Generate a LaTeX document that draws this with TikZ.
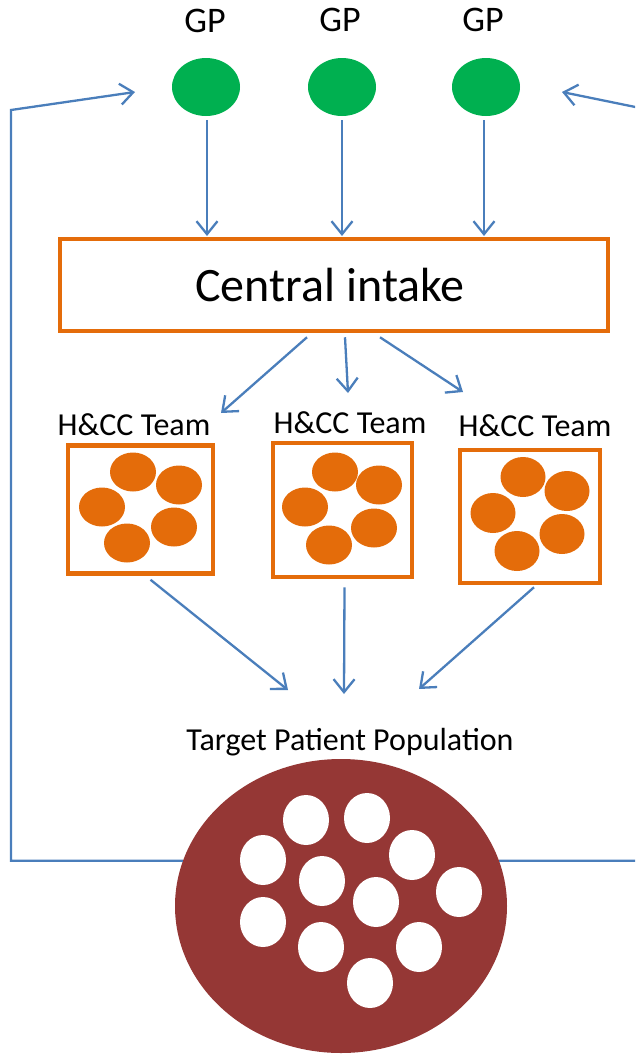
\documentclass[tikz,border=0pt]{standalone}
\usepackage{fontspec}
\setmainfont{Carlito}
\usetikzlibrary{arrows.meta,shapes.geometric}
\definecolor{cblue}{HTML}{4A7EBB}
\definecolor{cgreen}{HTML}{00B050}
\definecolor{corange}{HTML}{E46C0A}
\definecolor{cred}{HTML}{953735}
\tikzset{
  arr/.style={draw=cblue, line width=2.3pt, -{Straight Barb[length=13pt,width=21pt]}},
  gp/.style={ellipse, fill=cgreen, minimum width=68pt, minimum height=58pt, inner sep=0pt},
  lab/.style={anchor=base, inner sep=0pt, font=\fontsize{32}{32}\selectfont},
  gplab/.style={anchor=base, inner sep=0pt, font=\fontsize{36}{36}\selectfont},
  teambox/.style={draw=corange, line width=4.5pt, rectangle, inner sep=0pt},
  odot/.style={fill=corange},
  wdot/.style={fill=white},
}
\begin{document}
\begin{tikzpicture}[x=1pt,y=-1pt]
\useasboundingbox (0,0) rectangle (635,1055);
\clip (0,0) rectangle (635,1055);
% GP
\node[gplab] (gpl1) at (205,32) {GP};
\node[gplab] (gpl2) at (340,31) {GP};
\node[gplab] (gpl3) at (483,31) {GP};
\node[gp] (g1) at (206,87) {};
\node[gp] (g2) at (342,87) {};
\node[gp] (g3) at (486,87) {};
% central intake
\node[teambox, minimum width=548pt, minimum height=92pt] (intake) at (334,285) {};
\node[anchor=base, inner sep=0pt, font=\fontsize{48}{48}\selectfont] (intakel) at (330,301) {Central intake};
\coordinate (i1) at (207,236);
\coordinate (i2) at (342,236);
\coordinate (i3) at (484,236);
\draw[arr] ([yshift=-4pt]g1.south -| i1) -- (i1);
\draw[arr] ([yshift=-4pt]g2.south -| i2) -- (i2);
\draw[arr] ([yshift=-4pt]g3.south -| i3) -- (i3);
% team labels and boxes
\node[lab] (l1) at (134,435) {H\&CC Team};
\node[lab] (l2) at (350,433) {H\&CC Team};
\node[lab] (l3) at (535,436) {H\&CC Team};
\node[teambox, minimum width=145pt, minimum height=128pt] (t1) at (140.5,509.5) {};
\node[teambox, minimum width=139pt, minimum height=134pt] (t2) at (342.5,510) {};
\node[teambox, minimum width=140pt, minimum height=133pt] (t3) at (530,516.5) {};
\coordinate (a1) at (221,413);
\coordinate (a2) at (348,393);
\coordinate (a3) at (463,392);
\draw[arr] ([xshift=-27pt,yshift=-4pt]intake.south) -- (a1);
\draw[arr] ([xshift=11pt,yshift=-4pt]intake.south) -- (a2);
\draw[arr] ([xshift=46pt,yshift=-4pt]intake.south) -- (a3);
% orange dots
\foreach \x/\y in {133/472,179/485,102/507,174/527,127/543}
  \fill[odot] (\x,\y) ellipse [x radius=23, y radius=19.5];
\foreach \x/\y in {335/472,379/485,305/507,374/528,329/545}
  \fill[odot] (\x,\y) ellipse [x radius=23, y radius=19.5];
\foreach \x/\y in {523/477,567/491,493/513,562/534,517/551}
  \fill[odot] (\x,\y) ellipse [x radius=22.5, y radius=20];
% target population
\node[lab] (popl) at (350,750) {Target Patient Population};
\node[ellipse, fill=cred, minimum width=332pt, minimum height=294pt, inner sep=0pt] (pop) at (341,906) {};
\foreach \x/\y in {306/820,367/818,412/855,263/860,322/881,459/892,376/902,263/922,321/947,419/947,370/983}
  \fill[wdot] (\x,\y) ellipse [x radius=23, y radius=25];
\coordinate (b1) at (288,690);
\coordinate (b2) at (344,694);
\coordinate (b3) at (419,689);
\draw[arr] ([xshift=10pt,yshift=-4pt]t1.south) -- (b1);
\draw[arr] ([xshift=2pt,yshift=-8pt]t2.south) -- (b2);
\draw[arr] ([xshift=4pt,yshift=-2pt]t3.south) -- (b3);
% feedback loops
\coordinate (lc) at (11,110);
\coordinate (lt) at (135,92);
\coordinate (rc) at (650,110);
\coordinate (rt) at (562,92);
\draw[arr] (pop.164) -| (lc) -- (lt);
\draw[arr] (pop.16) -| (rc) -- (rt);
\end{tikzpicture}
\end{document}
